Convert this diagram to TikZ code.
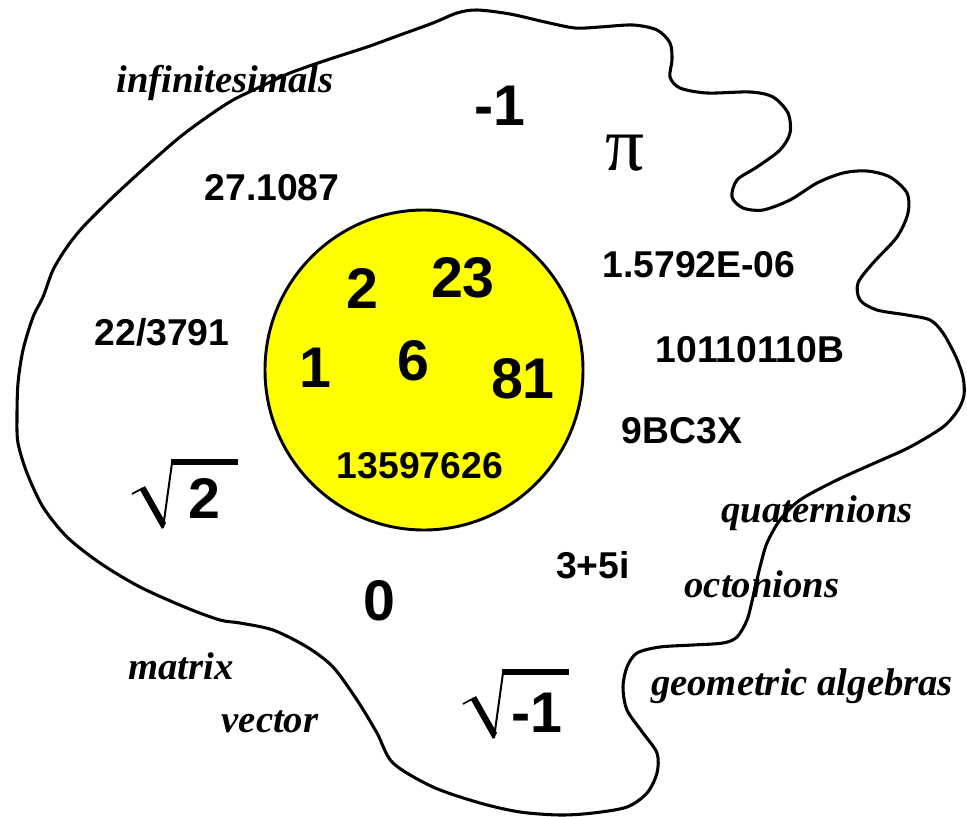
\documentclass[tikz,border=0pt]{standalone}
\usepackage{fontspec}
\setmainfont{Liberation Serif}
\setsansfont{Liberation Sans}
\definecolor{setyellow}{RGB}{255,255,0}

\begin{document}
\begin{tikzpicture}[
  x=0.75pt, y=-0.75pt,
  outline/.style={draw=black, line width=2.3pt, line join=round},
  numlabel/.style={font=\sffamily\bfseries\fontsize{28}{30}\selectfont, anchor=base, inner sep=0pt},
  bignum/.style={font=\sffamily\bfseries\fontsize{43}{46}\selectfont, anchor=base, inner sep=0pt},
  wordlabel/.style={font=\bfseries\itshape\fontsize{29}{31}\selectfont, anchor=base, inner sep=0pt},
  rootsign/.pic={
    \draw[line width=1.3pt] (0,1) -- (11,-5);
    \fill (8,-3) -- (13,-7) -- (34,30) -- (30,36) -- cycle;
    \draw[line width=1.5pt] (31,35) -- (40,-30);
    \fill (39,-34) rectangle (106,-28.5);
  }
]
\useasboundingbox (0,0) rectangle (967,817);

% the big blob of all numbers
\draw[outline, fill=white] plot[smooth cycle, tension=0.5] coordinates {
  (477,10) (510,14) (545,22) (575,28) (600,27) (633,25) (657,30) (670,43)
  (672,60) (670,77) (680,88) (707,93) (750,92) (773,97) (788,113) (790,133)
  (780,150) (757,167) (737,180) (732,197) (743,208) (763,210) (790,200)
  (817,183) (843,173) (867,171) (890,177) (907,193) (908,213) (897,237)
  (873,263) (858,283) (860,300) (877,310) (907,315) (930,320) (943,333)
  (956,357) (963,377) (964,395) (958,410) (943,427) (910,447) (877,462)
  (837,480) (800,500) (780,520) (767,543) (760,567) (753,597) (747,620)
  (737,637) (723,643) (693,645) (660,647) (637,653) (627,667) (623,687)
  (627,710) (643,733) (657,753) (657,773) (647,793) (627,807) (593,813)
  (560,815) (520,812) (480,803) (433,787) (393,763) (377,733) (357,700)
  (333,667) (307,647) (273,630) (240,623) (220,620) (187,608) (140,587)
  (100,563) (67,537) (43,507) (27,473) (18,443) (17,417) (18,383) (23,350)
  (33,317) (43,297) (53,270) (67,247) (83,227) (113,197) (150,163)
  (180,137) (207,117) (233,100) (260,87) (290,73) (327,60) (367,47)
  (400,35) (433,23) (457,13)};

% natural numbers
\draw[outline, line width=2.2pt, fill=setyellow] (424,370) circle[x radius=159, y radius=160];

\node[bignum] (two) at (362,308) {2};
\node[bignum] (twentythree) at (463,297) {23};
\node[bignum] (one) at (315,387) {1};
\node[bignum] (six) at (413,380) {6};
\node[bignum] (eightyone) at (523,398) {81};
\node[numlabel] (big) at (420,478) {13597626};

% everything else
\node[wordlabel] (infinitesimals) at (225,93) {infinitesimals};
\node[bignum] (minusone) at (500,125) {-1};
\node[font=\fontsize{58}{60}\selectfont, anchor=base, inner sep=0pt] (pi) at (625,170) {π};
\node[numlabel] (decimal) at (272,200) {27.1087};
\node[numlabel] (sci) at (699,277) {1.5792E-06};
\node[numlabel] (fraction) at (162,345) {22/3791};
\node[numlabel] (binary) at (750,362) {10110110B};
\node[numlabel] (base36) at (682,443) {9BC3X};
\pic at (132,493) {rootsign};
\node[bignum] (sqrttwo) at (204,518) {2};
\node[wordlabel] (quaternions) at (817,522) {quaternions};
\node[numlabel] (complex) at (593,578) {3+5i};
\node[wordlabel] (octonions) at (762,597) {octonions};
\node[bignum] (zero) at (379,620) {0};
\node[wordlabel] (matrix) at (181,679) {matrix};
\node[wordlabel] (geometric) at (802,695) {geometric algebras};
\node[wordlabel] (vector) at (270,732) {vector};
\pic at (463,703) {rootsign};
\node[bignum] (imag) at (537,732) {-1};

\end{tikzpicture}
\end{document}
